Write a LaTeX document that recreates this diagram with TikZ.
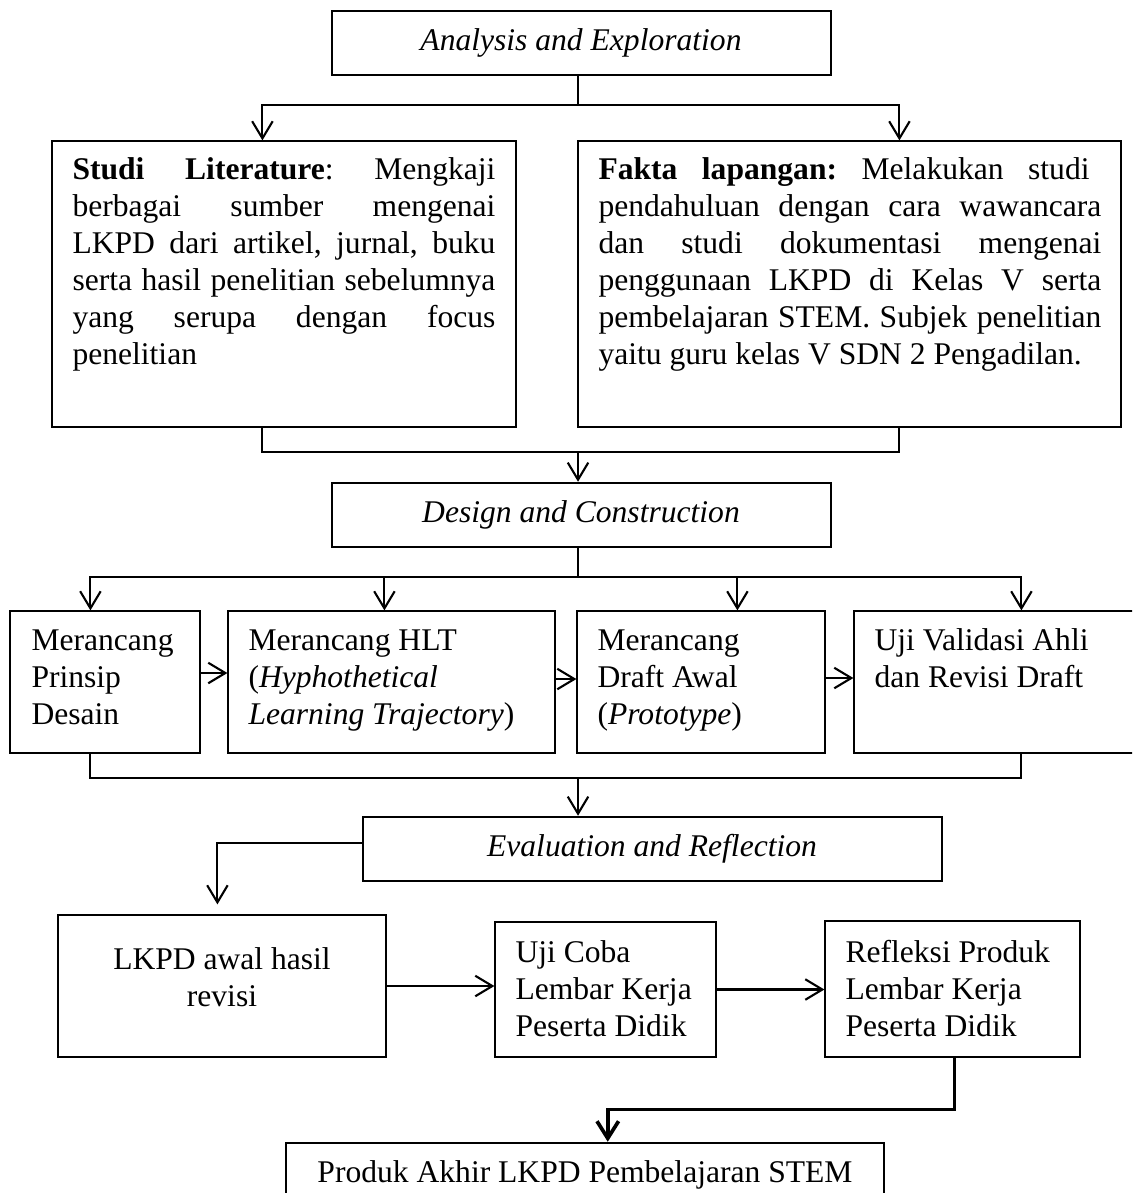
\documentclass[tikz,border=0pt]{standalone}
\usepackage{fontspec}
\setmainfont{Liberation Serif}
\usetikzlibrary{arrows.meta,calc,fit}
\newcommand\jl[2]{\makebox[#1][s]{\frenchspacing\spaceskip=0.25em plus 1fil\relax #2}}
\begin{document}
\begin{tikzpicture}[x=0.38pt,y=-0.38pt,
  every node/.style={font=\fontsize{12pt}{14.06pt}\selectfont},
  thinbox/.style={draw=black, line width=0.45pt, inner sep=0pt, rectangle},
  thickbox/.style={draw=black, line width=0.95pt, inner sep=0pt, rectangle},
  txt/.style={inner sep=0pt, align=flush left, anchor=base west},
  ln/.style={draw=black, line width=0.8pt},
  arr/.style={ln, -{Straight Barb[length=6.5pt,width=7.8pt]}},
  thickarr/.style={draw=black, line width=1.4pt, -{Straight Barb[length=6.5pt,width=8.2pt]}}
]
\useasboundingbox (0,0) rectangle (1132,1193);
\clip (0,0) rectangle (1132,1193);

% ---------- boxes ----------
\node[thickbox, fit={(332,11) (831,75)}] (A) {};
\node[thinbox, fit={(52,141) (516,427)}] (lit) {};
\node[thinbox, fit={(578,141) (1121,427)}] (fak) {};
\node[thickbox, fit={(332,483) (831,547)}] (D) {};
\node[thinbox, fit={(10,611) (200,753)}] (b1) {};
\node[thinbox, fit={(228,611) (555,753)}] (b2) {};
\node[thinbox, fit={(577,611) (825,753)}] (b3) {};
\node[thinbox, fit={(854,611) (1150,753)}] (b4) {};
\node[thickbox, fit={(363,817) (942,881)}] (E) {};
\node[thinbox, fit={(58,915) (386,1057)}] (L) {};
\node[thinbox, fit={(495,922) (716,1057)}] (U) {};
\node[thinbox, fit={(825,921) (1080,1057)}] (R) {};
\node[thickbox, fit={(286,1143) (884,1240)}] (P) {};

% ---------- texts ----------
\node[inner sep=0pt] (AT) at (581,43) {\textit{Analysis and Exploration}};
\node[inner sep=0pt] (DT) at (581,515) {\textit{Design and Construction}};
\node[inner sep=0pt] (ET) at (652,849) {\textit{Evaluation and Reflection}};
\node[txt, text width=160.7pt] (litT) at (72,180) {%
\jl{160.7pt}{\textbf{Studi Literature}: Mengkaji}\\
\jl{160.7pt}{berbagai sumber mengenai}\\
\jl{160.7pt}{LKPD dari artikel, jurnal, buku}\\
\jl{160.7pt}{serta hasil penelitian sebelumnya}\\
\jl{160.7pt}{yang serupa dengan focus}\\
penelitian};
\node[txt, text width=191.1pt] (fakT) at (598,180) {%
\jl{186.6pt}{\textbf{Fakta lapangan:} Melakukan studi}\\
\jl{191.1pt}{pendahuluan dengan cara wawancara}\\
\jl{191.1pt}{dan studi dokumentasi mengenai}\\
\jl{191.1pt}{penggunaan LKPD di Kelas V serta}\\
\jl{191.1pt}{pembelajaran STEM. Subjek penelitian}\\
yaitu guru kelas V SDN 2 Pengadilan.};
\node[txt, text width=63pt] (b1T) at (31,650) {Merancang\\Prinsip\\Desain};
\node[txt, text width=114pt] (b2T) at (248,650) {Merancang HLT\\(\textit{Hyphothetical}\\\textit{Learning Trajectory})};
\node[txt, text width=76pt] (b3T) at (597,650) {Merancang\\Draft Awal\\(\textit{Prototype})};
\node[txt, text width=95pt] (b4T) at (874,650) {Uji Validasi Ahli\\dan Revisi Draft};
\node[inner sep=0pt, align=flush center, text width=124pt, anchor=base] (LT) at (222,969) {LKPD awal hasil\\revisi};
\node[txt, text width=72pt] (UT) at (515,962) {Uji Coba\\Lembar Kerja\\Peserta Didik};
\node[txt, text width=88pt] (RT) at (845,962) {Refleksi Produk\\Lembar Kerja\\Peserta Didik};
\node[inner sep=0pt, anchor=base] (PT) at (585,1182) {Produk Akhir LKPD Pembelajaran STEM};

% ---------- connectors ----------
\coordinate (j1) at (578,105);
\draw[ln] (j1 |- A.south) -- (j1);
\draw[arr] (j1) -| ($(lit.north west)+(211,0)$);
\draw[arr] (j1) -| ($(fak.north west)+(322,0)$);

\draw[ln] ($(lit.south west)+(211,0)$) -- ++(0,24) -| ($(fak.south west)+(322,0)$);
\coordinate (j2) at (578,451);
\draw[arr] (j2) -- (j2 |- D.north);

\coordinate (j3) at (578,577);
\draw[ln] (j3 |- D.south) -- (j3);
\draw[arr] (j3) -| ($(b1.north west)+(81,0)$);
\draw[arr] (j3) -| ($(b2.north west)+(157,0)$);
\draw[arr] (j3) -| ($(b3.north west)+(161,0)$);
\draw[arr] (j3) -| ($(b4.north west)+(168,0)$);

\draw[arr] ($(b1.east)+(0,-9)$) -- ($(b2.west)+(0,-9)$);
\draw[arr] ($(b2.east)+(0,-3)$) -- ($(b3.west)+(0,-3)$);
\draw[arr] ($(b3.east)+(0,-4)$) -- ($(b4.west)+(0,-4)$);

\draw[ln] ($(b1.south west)+(81,0)$) -- ++(0,24) -| ($(b4.south west)+(168,0)$);
\coordinate (j4) at (578,777);
\draw[arr] (j4) -- (j4 |- E.north);

\draw[arr] ($(E.west)+(0,-6)$) -| ($(L.north west)+(160,-10)$);
\draw[arr] (L.east) -- (L.east -| U.west);
\draw[arr] (U.east) -- (U.east -| R.west);
\draw[thickarr] ($(R.south west)+(130,0)$) -- ++(0,52) -| ($(P.north west)+(323,0)$);
\end{tikzpicture}
\end{document}
